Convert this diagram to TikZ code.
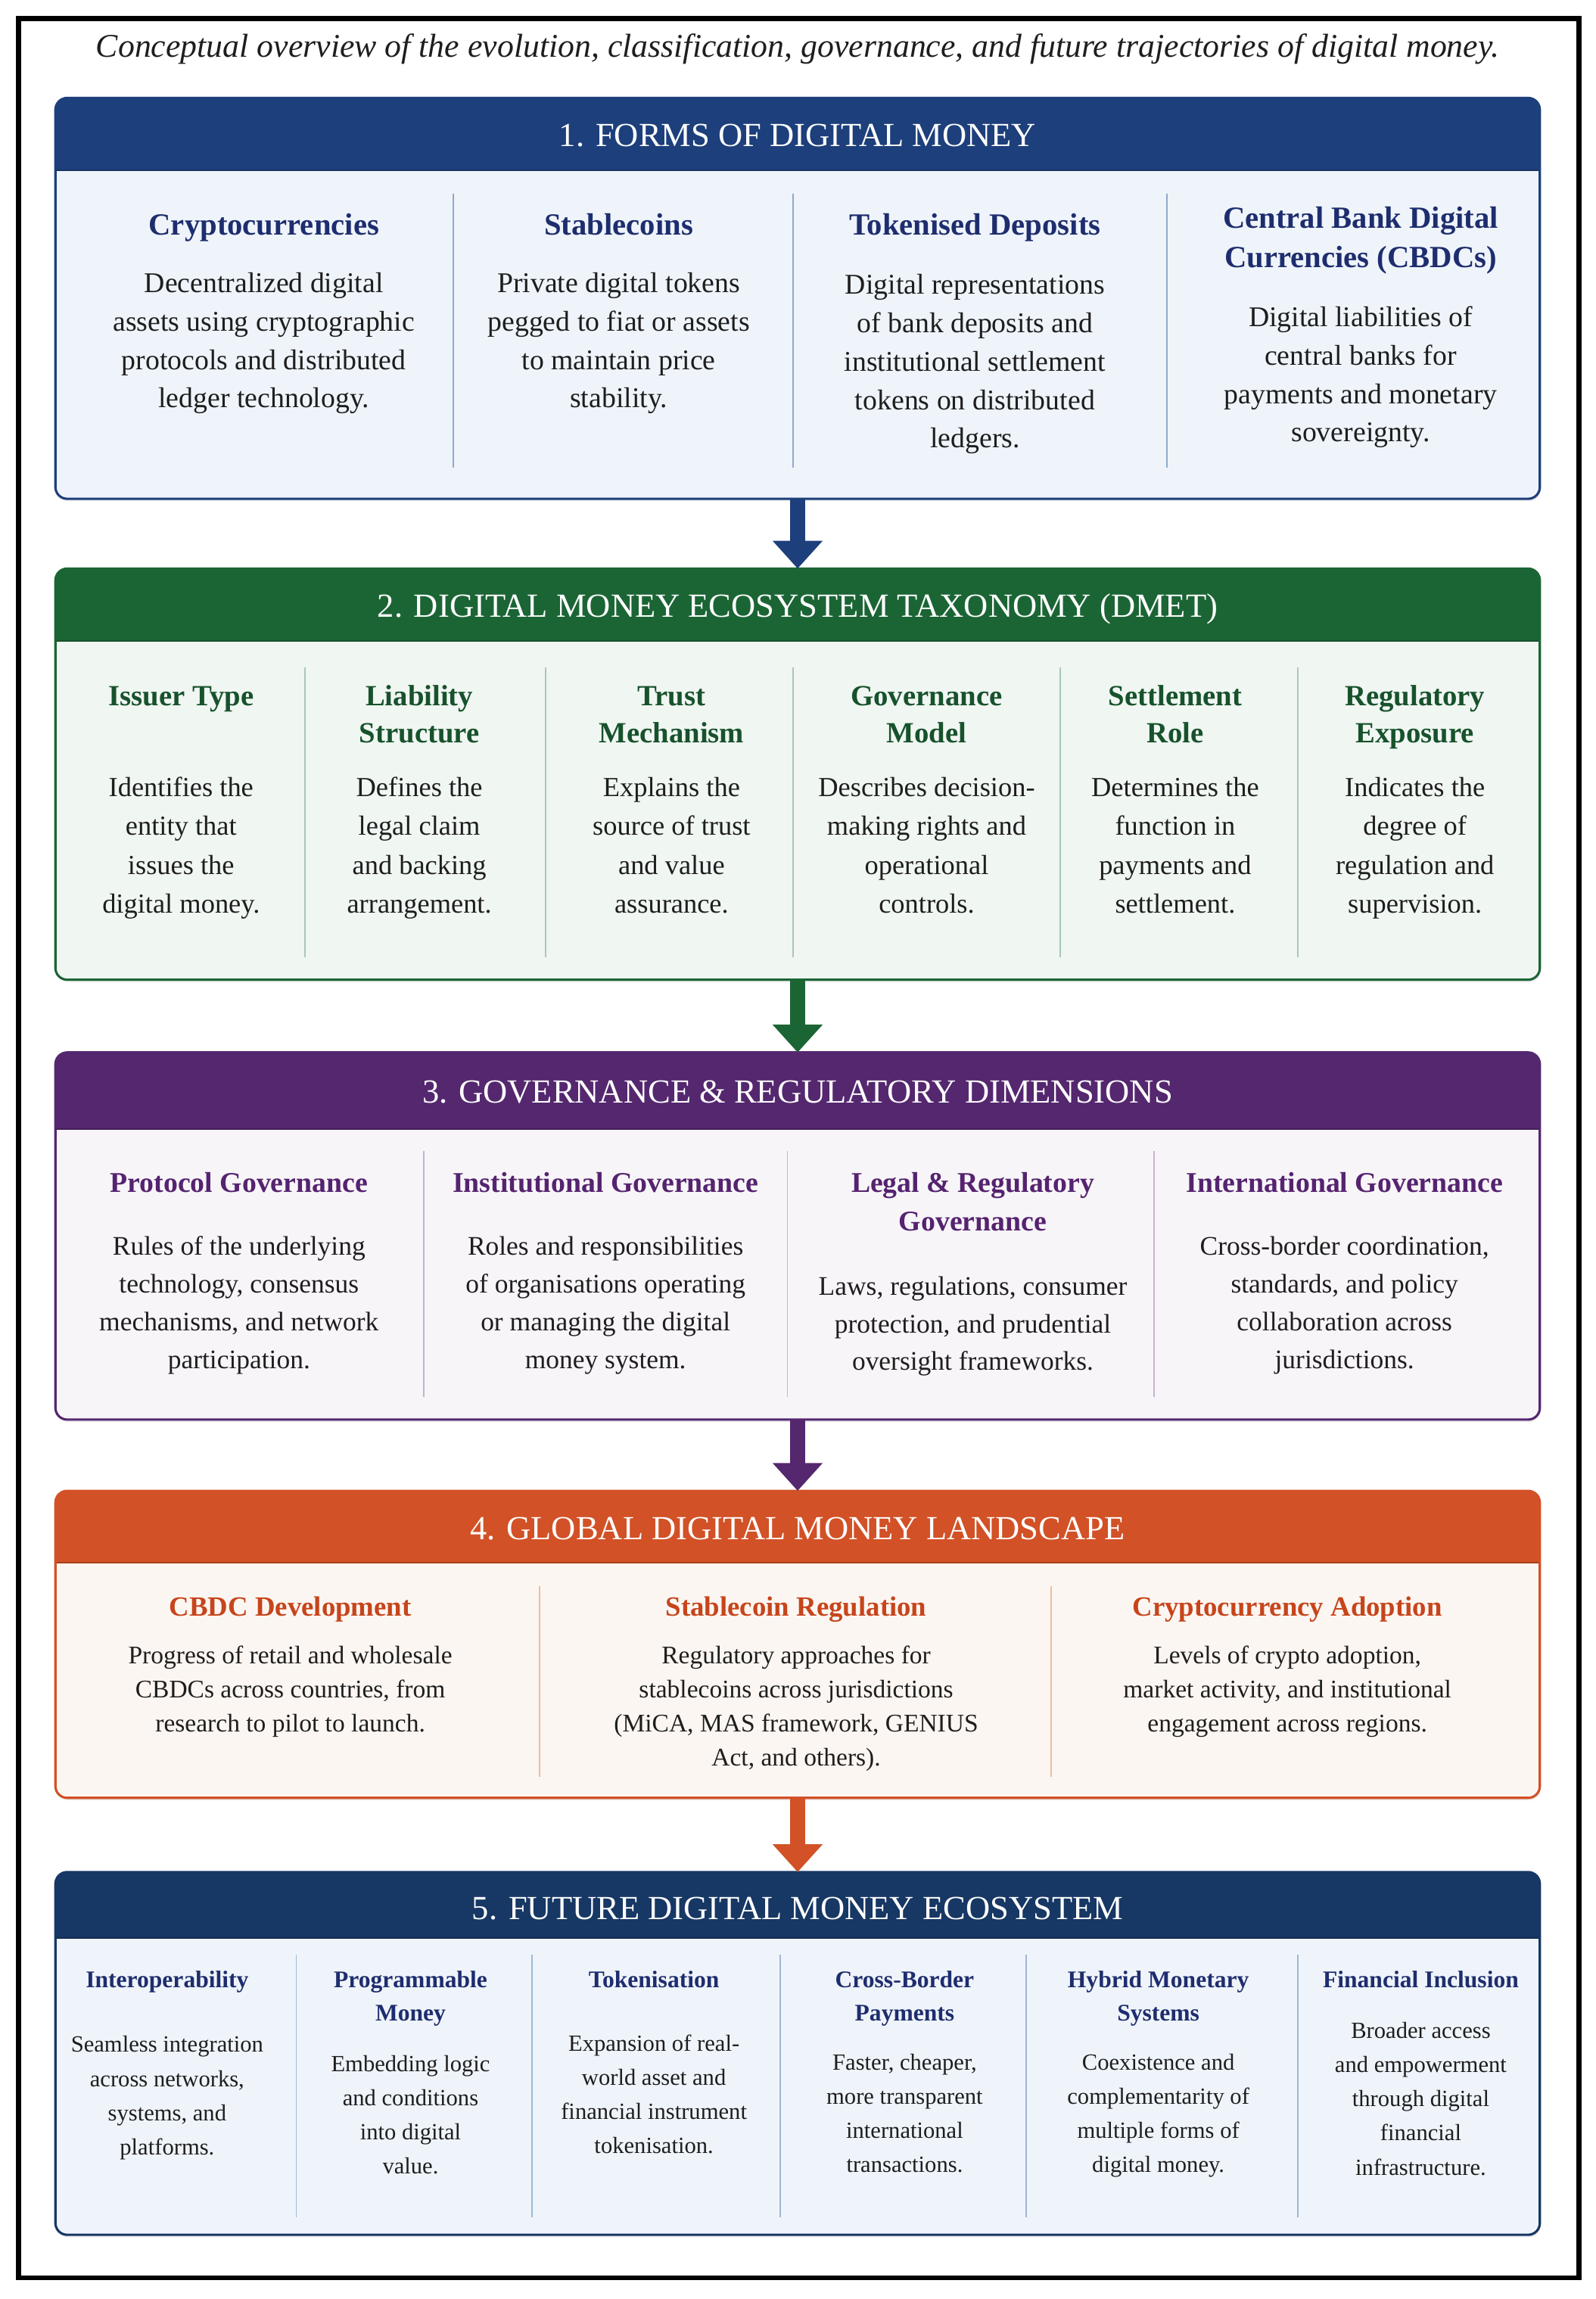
\documentclass[tikz,border=0pt]{standalone}
\usepackage{fontspec}
\setmainfont{Liberation Serif}
\usetikzlibrary{arrows.meta,shadows}
\definecolor{bA}{HTML}{1D3F7B}
\definecolor{bAl}{HTML}{EEF4FA}
\definecolor{bAt}{HTML}{1E2D6E}
\definecolor{bAd}{HTML}{8FA8CC}
\definecolor{gA}{HTML}{1B6535}
\definecolor{gAl}{HTML}{F0F6F2}
\definecolor{gAt}{HTML}{17522C}
\definecolor{gAd}{HTML}{A9C8B3}
\definecolor{pA}{HTML}{54276F}
\definecolor{pAl}{HTML}{F8F5F9}
\definecolor{pAt}{HTML}{55236F}
\definecolor{pAd}{HTML}{C6B1D1}
\definecolor{oA}{HTML}{D25126}
\definecolor{oAl}{HTML}{FCF6F2}
\definecolor{oAt}{HTML}{C7451B}
\definecolor{oAd}{HTML}{F1BC9C}
\definecolor{nA}{HTML}{173764}
\definecolor{nAl}{HTML}{EFF4FA}
\definecolor{nAt}{HTML}{1E2D6E}
\definecolor{nAd}{HTML}{9EB7D7}
\definecolor{bodytxt}{HTML}{1E1E1E}
\newcommand{\R}{\rule{0pt}{20pt}}
\newcommand{\hdrfont}{\fontsize{23}{27}\selectfont}
\newcommand{\secframe}[4]{%
  \begin{scope}
    \clip[rounded corners=8pt] (#1.north west) rectangle (#1.south east);
    \fill[#2] (#1.north west) rectangle (1050,#3);
  \end{scope}
  \draw[#2!80!black, line width=1pt] (38,#3) -- (1050,#3);
  \draw[#2, line width=1.6pt, rounded corners=8pt] (#1.north west) rectangle (#1.south east);
}
\begin{document}
\begin{tikzpicture}[x=1pt,y=-1pt,
  secbox/.style={rectangle, rounded corners=8pt, minimum width=1012pt, inner sep=0pt,
    drop shadow={opacity=0.18, shadow xshift=0.8pt, shadow yshift=-1.8pt}},
  hd/.style={anchor=base, text=white, font=\hdrfont, inner sep=0pt},
  ml/.style={anchor=north, inner sep=0pt, align=center},
  body/.style={ml, text=bodytxt},
  divl/.style={line width=0.9pt},
  arr/.style={line width=10pt, -{Triangle[width=33pt,length=19pt]}}
]
\useasboundingbox (0,0) rectangle (1088,1568);
\fill[white] (0,0) rectangle (1088,1568);
\draw[line width=3.5pt] (12.5,12.5) rectangle (1077,1553.5);

\node[anchor=base, inner sep=0pt, font=\fontsize{22.6}{26}\selectfont\itshape, text=bodytxt] (ttl) at (544,39)
  {Conceptual overview of the evolution, classification, governance, and future trajectories of digital money.};

% ---------- Section 1
\node[secbox, fill=bAl, minimum height=273pt] (s1) at (544,203.5) {};
\secframe{s1}{bA}{116}{}
\node[hd] (h1) at (544,100) {1. FORMS OF DIGITAL MONEY};
\foreach \xx in {309,541,796} \draw[divl, bAd] (\xx,132) -- (\xx,319);
\begin{scope}[every node/.append style={font=\fontsize{21}{26.4}\selectfont\bfseries, text=bAt}]
\node[ml] (t11) at (180,140) {\R Cryptocurrencies};
\node[ml] (t12) at (422,140) {\R Stablecoins};
\node[ml] (t13) at (665,140) {\R Tokenised Deposits};
\node[ml] (t14) at (928,135.6) {\R Central Bank Digital\\Currencies (CBDCs)};
\end{scope}
\begin{scope}[every node/.append style={font=\fontsize{19.5}{26.2}\selectfont}]
\node[body] (b11) at (180,179.3) {\R Decentralized digital\\assets using cryptographic\\protocols and distributed\\ledger technology.};
\node[body] (b12) at (422,179.3) {\R Private digital tokens\\pegged to fiat or assets\\to maintain price\\stability.};
\node[body] (b13) at (665,180.5) {\R Digital representations\\of bank deposits and\\institutional settlement\\tokens on distributed\\ledgers.};
\node[body] (b14) at (928,202.5) {\R Digital liabilities of\\central banks for\\payments and monetary\\sovereignty.};
\end{scope}

% ---------- Section 2
\node[secbox, fill=gAl, minimum height=280pt] (s2) at (544,528) {};
\secframe{s2}{gA}{437}{}
\node[hd] (h2) at (544,421) {2. DIGITAL MONEY ECOSYSTEM TAXONOMY (DMET)};
\foreach \xx in {208,372,541,723,885} \draw[divl, gAd] (\xx,455) -- (\xx,653);
\begin{scope}[every node/.append style={font=\fontsize{20}{25.6}\selectfont\bfseries, text=gAt}]
\node[ml] (t21) at (123.5,461) {\R Issuer Type};
\node[ml] (t22) at (286,461) {\R Liability\\Structure};
\node[ml] (t23) at (458,461) {\R Trust\\Mechanism};
\node[ml] (t24) at (632,461) {\R Governance\\Model};
\node[ml] (t25) at (801.5,461) {\R Settlement\\Role};
\node[ml] (t26) at (965,461) {\R Regulatory\\Exposure};
\end{scope}
\begin{scope}[every node/.append style={font=\fontsize{18.8}{26.5}\selectfont}]
\node[body] (b21) at (123.5,523) {\R Identifies the\\entity that\\issues the\\digital money.};
\node[body] (b22) at (286,523) {\R Defines the\\legal claim\\and backing\\arrangement.};
\node[body] (b23) at (458,523) {\R Explains the\\source of trust\\and value\\assurance.};
\node[body] (b24) at (632,523) {\R Describes decision-\\making rights and\\operational\\controls.};
\node[body] (b25) at (801.5,523) {\R Determines the\\function in\\payments and\\settlement.};
\node[body] (b26) at (965,523) {\R Indicates the\\degree of\\regulation and\\supervision.};
\end{scope}

% ---------- Section 3
\node[secbox, fill=pAl, minimum height=250pt] (s3) at (544,843) {};
\secframe{s3}{pA}{770}{}
\node[hd] (h3) at (544,752) {3. GOVERNANCE \& REGULATORY DIMENSIONS};
\foreach \xx in {289,537,787} \draw[divl, pAd] (\xx,785) -- (\xx,953);
\begin{scope}[every node/.append style={font=\fontsize{19.5}{26.5}\selectfont\bfseries, text=pAt}]
\node[ml] (t31) at (163,793) {\R Protocol Governance};
\node[ml] (t32) at (413,793) {\R Institutional Governance};
\node[ml] (t33) at (663.5,793) {\R Legal \& Regulatory\\Governance};
\node[ml] (t34) at (917,793) {\R International Governance};
\end{scope}
\begin{scope}[every node/.append style={font=\fontsize{18.3}{25.7}\selectfont}]
\node[body] (b31) at (163,836) {\R Rules of the underlying\\technology, consensus\\mechanisms, and network\\participation.};
\node[body] (b32) at (413,836) {\R Roles and responsibilities\\of organisations operating\\or managing the digital\\money system.};
\node[body] (b33) at (663.5,863) {\R Laws, regulations, consumer\\protection, and prudential\\oversight frameworks.};
\node[body] (b34) at (917,836) {\R Cross-border coordination,\\standards, and policy\\collaboration across\\jurisdictions.};
\end{scope}

% ---------- Section 4
\node[secbox, fill=oAl, minimum height=209pt] (s4) at (544,1121.5) {};
\secframe{s4}{oA}{1066}{}
\node[hd] (h4) at (544,1050) {4. GLOBAL DIGITAL MONEY LANDSCAPE};
\foreach \xx in {368,717} \draw[divl, oAd] (\xx,1082) -- (\xx,1212);
\begin{scope}[every node/.append style={font=\fontsize{19}{24}\selectfont\bfseries, text=oAt}]
\node[ml] (t41) at (198,1082) {\R CBDC Development};
\node[ml] (t42) at (543,1082) {\R Stablecoin Regulation};
\node[ml] (t43) at (878,1082) {\R Cryptocurrency Adoption};
\end{scope}
\begin{scope}[every node/.append style={font=\fontsize{17.3}{23.2}\selectfont}]
\node[body] (b41) at (198,1114.5) {\R Progress of retail and wholesale\\CBDCs across countries, from\\research to pilot to launch.};
\node[body] (b42) at (543,1114.5) {\R Regulatory approaches for\\stablecoins across jurisdictions\\(MiCA, MAS framework, GENIUS\\Act, and others).};
\node[body] (b43) at (878,1114.5) {\R Levels of crypto adoption,\\market activity, and institutional\\engagement across regions.};
\end{scope}

% ---------- Section 5
\node[secbox, fill=nAl, minimum height=247pt] (s5) at (544,1400.5) {};
\secframe{s5}{nA}{1322}{}
\node[hd] (h5) at (544,1309) {5. FUTURE DIGITAL MONEY ECOSYSTEM};
\foreach \xx in {202,363,532,700,885} \draw[divl, nAd] (\xx,1333) -- (\xx,1512);
\begin{scope}[every node/.append style={font=\fontsize{16.3}{22.5}\selectfont\bfseries, text=nAt}]
\node[ml] (t51) at (114,1335.5) {\R Interoperability};
\node[ml] (t52) at (280,1335.5) {\R Programmable\\Money};
\node[ml] (t53) at (446,1335.5) {\R Tokenisation};
\node[ml] (t54) at (617,1335.5) {\R Cross-Border\\Payments};
\node[ml] (t55) at (790,1335.5) {\R Hybrid Monetary\\Systems};
\node[ml] (t56) at (969,1335.5) {\R Financial Inclusion};
\end{scope}
\begin{scope}[every node/.append style={font=\fontsize{15.8}{23.3}\selectfont}]
\node[body] (b51) at (114,1379.5) {\R Seamless integration\\across networks,\\systems, and\\platforms.};
\node[body] (b52) at (280,1392.5) {\R Embedding logic\\and conditions\\into digital\\value.};
\node[body] (b53) at (446,1378.5) {\R Expansion of real-\\world asset and\\financial instrument\\tokenisation.};
\node[body] (b54) at (617,1391.5) {\R Faster, cheaper,\\more transparent\\international\\transactions.};
\node[body] (b55) at (790,1391.5) {\R Coexistence and\\complementarity of\\multiple forms of\\digital money.};
\node[body] (b56) at (969,1370) {\R Broader access\\and empowerment\\through digital\\financial\\infrastructure.};
\end{scope}

% ---------- Arrows
\draw[arr, bA] (s1.south) -- (s2.north);
\draw[arr, gA] (s2.south) -- (s3.north);
\draw[arr, pA] (s3.south) -- (s4.north);
\draw[arr, oA] (s4.south) -- (s5.north);
\end{tikzpicture}
\end{document}
